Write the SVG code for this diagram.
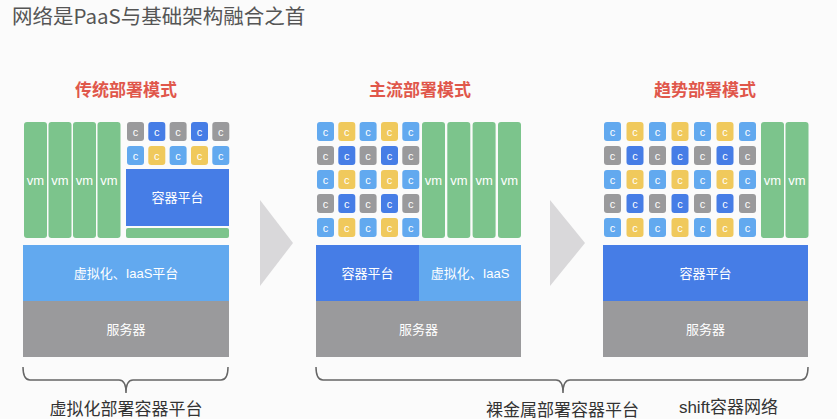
<svg xmlns="http://www.w3.org/2000/svg" width="837" height="419" viewBox="0 0 837 419">
<style>
text{font-family:"Liberation Sans","Noto Sans CJK SC",sans-serif;}
.vm{fill:#7cc48c;}
.lb{fill:#62a9ef;}
.db{fill:#467de6;}
.gr{fill:#9a9a9c;}
.ye{fill:#f0c95c;}
.wt{fill:#ffffff;font-size:13px;text-anchor:middle;}
.ct{fill:#ffffff;font-size:11px;text-anchor:middle;}
.hd{fill:#e0574b;font-size:17px;font-weight:bold;text-anchor:middle;}
.lbl{fill:#333333;font-size:17px;text-anchor:middle;}
.br{fill:none;stroke:#666666;stroke-width:1.5;}
.arr{fill:#d9d8da;}
</style>
<defs>
<g id="cl"><rect class="lb" width="17" height="19" rx="3"/><text class="ct" x="8.5" y="13.5">c</text></g>
<g id="cy"><rect class="ye" width="17" height="19" rx="3"/><text class="ct" x="8.5" y="13.5">c</text></g>
<g id="cg"><rect class="gr" width="17" height="19" rx="3"/><text class="ct" x="8.5" y="13.5">c</text></g>
<g id="cd"><rect class="db" width="17" height="19" rx="3"/><text class="ct" x="8.5" y="13.5">c</text></g>
</defs>
<rect width="837" height="419" fill="#fbfbfb"/>
<text x="12" y="24" font-size="20.5" fill="#555555" style="font-family:'Noto Sans CJK SC','Liberation Sans',sans-serif">网络是PaaS与基础架构融合之首</text>

<g id="panel1">
<text class="hd" x="126" y="96">传统部署模式</text>
<rect class="vm" x="24" y="122" width="23" height="116" rx="3"/>
<rect class="vm" x="48.5" y="122" width="23" height="116" rx="3"/>
<rect class="vm" x="73" y="122" width="23" height="116" rx="3"/>
<rect class="vm" x="97.5" y="122" width="23" height="116" rx="3"/>
<text class="wt" x="35.5" y="185">vm</text>
<text class="wt" x="60" y="185">vm</text>
<text class="wt" x="84.5" y="185">vm</text>
<text class="wt" x="109" y="185">vm</text>
<use href="#cg" x="127" y="122"/><use href="#cd" x="148.3" y="122"/><use href="#cg" x="169.6" y="122"/><use href="#cd" x="191" y="122"/><use href="#cg" x="212.3" y="122"/>
<use href="#cl" x="127" y="146"/><use href="#cy" x="148.3" y="146"/><use href="#cl" x="169.6" y="146"/><use href="#cy" x="191" y="146"/><use href="#cl" x="212.3" y="146"/>
<rect class="db" x="126" y="169" width="103" height="57"/>
<text class="wt" x="177.5" y="202">容器平台</text>
<rect class="vm" x="126" y="228" width="103" height="10" rx="2"/>
<rect class="lb" x="23" y="245" width="206" height="56"/>
<text class="wt" x="126" y="278">虚拟化、IaaS平台</text>
<rect class="gr" x="23" y="301" width="206" height="56"/>
<text class="wt" x="126" y="334">服务器</text>
</g>

<g id="panel2">
<text class="hd" x="420" y="96">主流部署模式</text>
<use href="#cl" x="317" y="122"/><use href="#cy" x="338.3" y="122"/><use href="#cl" x="359.6" y="122"/><use href="#cy" x="381" y="122"/><use href="#cl" x="402.3" y="122"/>
<use href="#cg" x="317" y="146"/><use href="#cd" x="338.3" y="146"/><use href="#cg" x="359.6" y="146"/><use href="#cd" x="381" y="146"/><use href="#cg" x="402.3" y="146"/>
<use href="#cl" x="317" y="170"/><use href="#cy" x="338.3" y="170"/><use href="#cl" x="359.6" y="170"/><use href="#cy" x="381" y="170"/><use href="#cl" x="402.3" y="170"/>
<use href="#cg" x="317" y="194"/><use href="#cd" x="338.3" y="194"/><use href="#cg" x="359.6" y="194"/><use href="#cd" x="381" y="194"/><use href="#cg" x="402.3" y="194"/>
<use href="#cl" x="317" y="218"/><use href="#cy" x="338.3" y="218"/><use href="#cl" x="359.6" y="218"/><use href="#cy" x="381" y="218"/><use href="#cl" x="402.3" y="218"/>
<rect class="vm" x="422" y="122" width="23" height="116" rx="3"/>
<rect class="vm" x="447.3" y="122" width="23" height="116" rx="3"/>
<rect class="vm" x="472.6" y="122" width="23" height="116" rx="3"/>
<rect class="vm" x="498" y="122" width="23" height="116" rx="3"/>
<text class="wt" x="433.5" y="185">vm</text>
<text class="wt" x="458.8" y="185">vm</text>
<text class="wt" x="484.1" y="185">vm</text>
<text class="wt" x="509.5" y="185">vm</text>
<rect class="db" x="316" y="245" width="103" height="56"/>
<text class="wt" x="367.5" y="278">容器平台</text>
<rect class="lb" x="419" y="245" width="102" height="56"/>
<text class="wt" x="470" y="278">虚拟化、IaaS</text>
<rect class="gr" x="316" y="301" width="205" height="56"/>
<text class="wt" x="418.5" y="334">服务器</text>
</g>

<g id="panel3">
<text class="hd" x="705" y="96">趋势部署模式</text>
<use href="#cl" x="604" y="122"/><use href="#cy" x="626.5" y="122"/><use href="#cl" x="649" y="122"/><use href="#cy" x="671.5" y="122"/><use href="#cl" x="694" y="122"/><use href="#cy" x="716.5" y="122"/><use href="#cl" x="739" y="122"/>
<use href="#cg" x="604" y="146"/><use href="#cd" x="626.5" y="146"/><use href="#cg" x="649" y="146"/><use href="#cd" x="671.5" y="146"/><use href="#cg" x="694" y="146"/><use href="#cd" x="716.5" y="146"/><use href="#cg" x="739" y="146"/>
<use href="#cl" x="604" y="170"/><use href="#cy" x="626.5" y="170"/><use href="#cl" x="649" y="170"/><use href="#cy" x="671.5" y="170"/><use href="#cl" x="694" y="170"/><use href="#cy" x="716.5" y="170"/><use href="#cl" x="739" y="170"/>
<use href="#cg" x="604" y="194"/><use href="#cd" x="626.5" y="194"/><use href="#cg" x="649" y="194"/><use href="#cd" x="671.5" y="194"/><use href="#cg" x="694" y="194"/><use href="#cd" x="716.5" y="194"/><use href="#cg" x="739" y="194"/>
<use href="#cl" x="604" y="218"/><use href="#cy" x="626.5" y="218"/><use href="#cl" x="649" y="218"/><use href="#cy" x="671.5" y="218"/><use href="#cl" x="694" y="218"/><use href="#cy" x="716.5" y="218"/><use href="#cl" x="739" y="218"/>
<rect class="vm" x="761" y="122" width="23" height="116" rx="3"/>
<rect class="vm" x="785.5" y="122" width="23" height="116" rx="3"/>
<text class="wt" x="772.5" y="185">vm</text>
<text class="wt" x="797" y="185">vm</text>
<rect class="db" x="603" y="245" width="205" height="56"/>
<text class="wt" x="705.5" y="278">容器平台</text>
<rect class="gr" x="603" y="301" width="205" height="56"/>
<text class="wt" x="705.5" y="334">服务器</text>
</g>

<g id="connectors">
<polygon class="arr" points="260,200 293,243 260,286"/>
<polygon class="arr" points="550,200 585,243 550,286"/>
<path class="br" d="M23,367 Q23,380 30,380 L119,380 Q126,380 126,393 Q126,380 133,380 L221,380 Q228,380 228,367"/>
<path class="br" d="M316,367 Q316,380 323,380 L556,380 Q563,380 563,393 Q563,380 570,380 L801,380 Q808,380 808,367"/>
</g>

<g id="labels">
<text class="lbl" x="126" y="415">虚拟化部署容器平台</text>
<text class="lbl" x="562.5" y="416">裸金属部署容器平台</text>
<text class="lbl" x="728.5" y="413">shift容器网络</text>
</g>
</svg>
